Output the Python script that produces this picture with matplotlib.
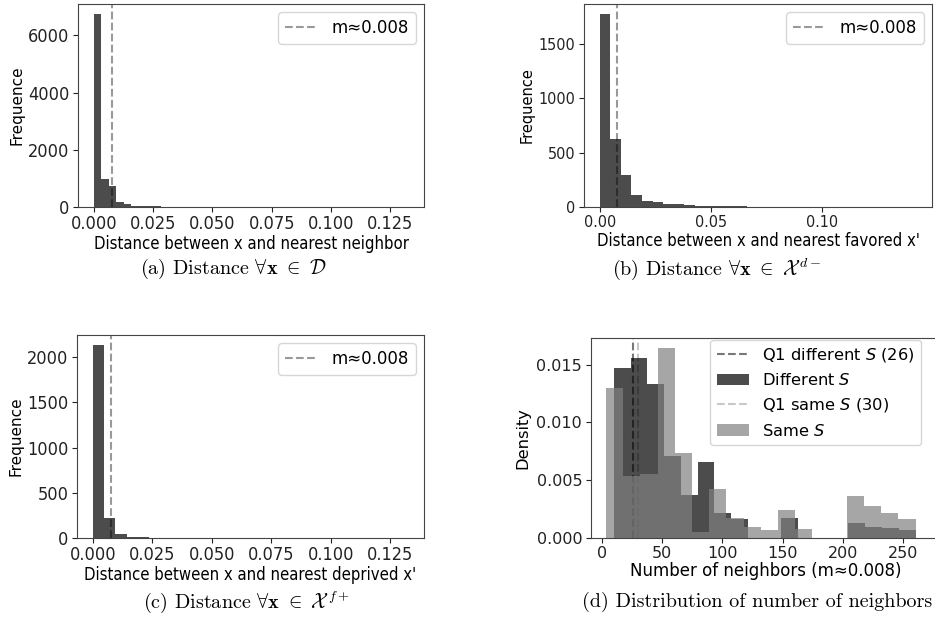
import numpy as np
import matplotlib
matplotlib.use("Agg")
import matplotlib.pyplot as plt
from matplotlib import font_manager

W, H = 935, 627

# --- values ---
a_counts = [6760, 990, 720, 175, 105, 45, 40, 30, 22, 15, 10, 8, 6, 5, 4, 3, 3, 2, 2, 2, 1,
            1, 1, 1, 1, 1, 0, 1, 0, 0, 1, 0, 0, 0, 1, 0, 0, 0, 0, 0, 0, 1]
a_range = (0.0, 0.1326)

b_counts = [1774, 627, 297, 107, 55, 50, 31, 28, 16, 10, 8, 7, 6, 5, 4, 3, 2, 1, 1, 1,
            0, 1, 0, 0, 1, 0, 0, 0, 0, 1]
b_range = (0.0, 0.1422)

c_counts = [2140, 218, 48, 14, 6, 0, 5, 0, 0, 0, 0, 0, 0, 0, 0, 0, 0, 0, 0, 0,
            0, 0, 0, 0, 0, 0, 0, 1]
c_range = (0.0, 0.1326)

m_value = 0.0077
m_label = "m≈0.008"

d_diff = [0.0147, 0.01556, 0.0133, 0.0071, 0.0037, 0.0066, 0.00215, 0.00165, 0, 0,
          0.0017, 0, 0, 0, 0.00128, 0.00093, 0.00084, 0.00061]
d_diff_range = (10, 260)
d_same = [0.0130, 0.0053, 0.0055, 0.0165, 0.0073, 0.0005, 0.0042, 0.0017, 0.00093, 0.00061,
          0.00238, 0.00078, 0, 0, 0.0036, 0.00273, 0.00209, 0.00157]
d_same_range = (3.6, 260)
q1_diff = 26
q1_same = 30

ac_xticks = [0, 0.025, 0.05, 0.075, 0.1, 0.125]
b_xticks = [0, 0.05, 0.1]
d_xticks = [0, 50, 100, 150, 200, 250]
a_yticks = [0, 2000, 4000, 6000]
b_yticks = [0, 500, 1000, 1500]
c_yticks = [0, 500, 1000, 1500, 2000]
d_yticks = [0, 0.005, 0.010, 0.015]

# the three distance panels look squeezed sideways: use condensed DejaVu if present
has_cond = any(f.name == "DejaVu Sans" and f.stretch == "condensed"
               for f in font_manager.fontManager.ttflist)


def narrow(size):
    if has_cond:
        return dict(family="DejaVu Sans", stretch="condensed", size=size)
    return dict(family="DejaVu Sans", size=size * 0.9)


fig = plt.figure(figsize=(W / 100, H / 100), dpi=100)


def px_axes(left, top, right, bottom):
    return fig.add_axes([left / W, 1 - bottom / H, (right - left) / W, (bottom - top) / H])


def style(ax, tick_font):
    for s in ax.spines.values():
        s.set_color("#444444")
    ax.tick_params(colors="#222222", length=3.5, pad=2.5)
    for lab in ax.get_xticklabels() + ax.get_yticklabels():
        lab.set(**tick_font)


def dist_panel(ax, counts, rng, xticks, yticks, xlabel, tick_size, ylab_size):
    edges = np.linspace(rng[0], rng[1], len(counts) + 1)
    ax.axvline(m_value, color="gray", ls="--", alpha=0.8, lw=1.5, zorder=0.5, label=m_label)
    ax.hist(edges[:-1], bins=edges, weights=counts, color="black", alpha=0.7)
    ax.set_xticks(xticks)
    ax.set_yticks(yticks)
    ax.set_ylabel("Frequence", fontsize=ylab_size, labelpad=3)
    ax.set_xlabel(xlabel, labelpad=1, **narrow(12))
    style(ax, narrow(tick_size))
    ax.legend(loc="upper right", prop=dict(family="DejaVu Sans", size=12))


ax_a = px_axes(78, 4, 424, 207)
dist_panel(ax_a, a_counts, a_range, ac_xticks, a_yticks,
           "Distance between x and nearest neighbor", 13, 11)

ax_b = px_axes(584, 4, 932, 207)
dist_panel(ax_b, b_counts, b_range, b_xticks, b_yticks,
           "Distance between x and nearest favored x'", 11.5, 10.5)

ax_c = px_axes(77, 335, 424, 538)
dist_panel(ax_c, c_counts, c_range, ac_xticks, c_yticks,
           "Distance between x and nearest deprived x'", 13, 11)

# --- (d) number of neighbours ---
ax_d = px_axes(590.5, 338, 940, 537.5)
e_diff = np.linspace(d_diff_range[0], d_diff_range[1], len(d_diff) + 1)
e_same = np.linspace(d_same_range[0], d_same_range[1], len(d_same) + 1)
l1 = ax_d.axvline(q1_diff, color="#555555", ls="--", alpha=0.8, lw=1.5, zorder=0.5,
                  label=f"Q1 different $S$ ({q1_diff})")
_, _, p1 = ax_d.hist(e_diff[:-1], bins=e_diff, weights=d_diff, color="black", alpha=0.7)
l2 = ax_d.axvline(q1_same, color="#bbbbbb", ls="--", alpha=0.8, lw=1.5, zorder=0.5,
                  label=f"Q1 same $S$ ({q1_same})")
_, _, p2 = ax_d.hist(e_same[:-1], bins=e_same, weights=d_same, color="gray", alpha=0.7)
ax_d.set_xlim(-9.3, 280.3)
ax_d.set_xticks(d_xticks)
ax_d.set_yticks(d_yticks)
ax_d.set_ylabel("Density", fontsize=11.7)
ax_d.set_xlabel("Number of neighbors (m≈0.008)", fontsize=12, labelpad=1)
style(ax_d, dict(size=11.5))
ax_d.legend([l1, p1, l2, p2], [l1.get_label(), "Different $S$", l2.get_label(), "Same $S$"],
            loc="upper right", bbox_to_anchor=(0.951, 1.0), borderaxespad=0.1, fontsize=11.7)

# --- sub-captions ---
cap = dict(family="cmr10", math_fontfamily="cm", size=14.5, ha="center", va="center")
fig.text(233 / W, 1 - 269 / H,
         r"(a) Distance $\forall\mathbf{x}\ \in\ \mathcal{D}$", **cap)
fig.text(717 / W, 1 - 269 / H,
         r"(b) Distance $\forall\mathbf{x}\ \in\ \mathcal{X}^{\,d-}$", **cap)
fig.text(246 / W, 1 - 602 / H,
         r"(c) Distance $\forall\mathbf{x}\ \in\ \mathcal{X}^{\,f+}$", **cap)
fig.text(757 / W, 1 - 602 / H, "(d) Distribution of number of neighbors", **cap)

fig.savefig("out.png", dpi=100)
